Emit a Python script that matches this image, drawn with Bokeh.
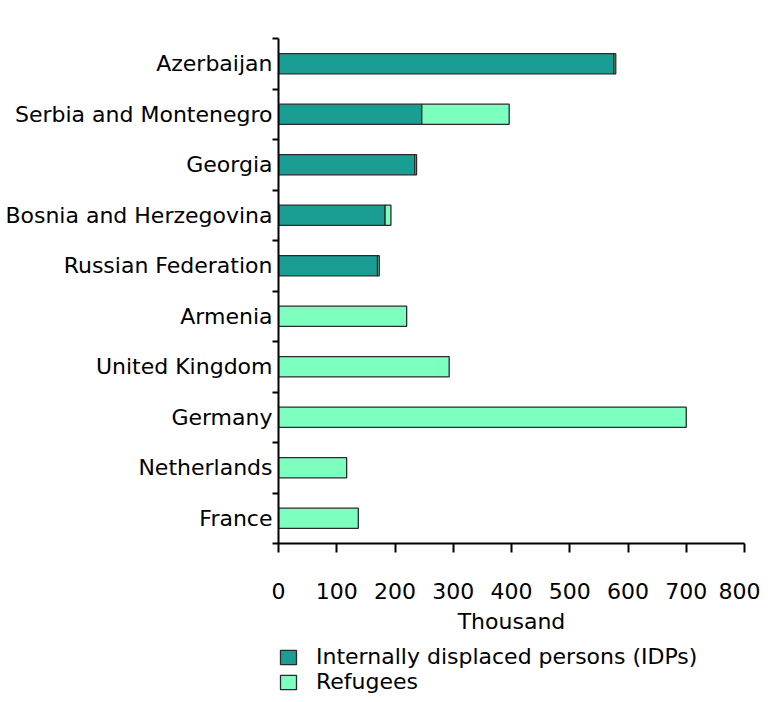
from bokeh.plotting import figure
from bokeh.models import ColumnDataSource, FixedTicker, Range1d, Legend, LegendItem
from bokeh.layouts import column
from bokeh.embed import file_html
from bokeh.resources import INLINE

countries = ["Azerbaijan", "Serbia and Montenegro", "Georgia", "Bosnia and Herzegovina",
             "Russian Federation", "Armenia", "United Kingdom", "Germany", "Netherlands", "France"]
idps = [576, 246, 234, 183, 170, 0, 0, 0, 0, 0]
refugees = [3, 150, 3, 10, 3, 220, 293, 700, 117, 137]
x_ticks = [0, 100, 200, 300, 400, 500, 600, 700, 800]
series_labels = ["Internally displaced persons (IDPs)", "Refugees"]
series_colors = ["#1a9e94", "#7dffbf"]

n = len(countries)
ypos = [n - 1 - i for i in range(n)]
src = ColumnDataSource(dict(y=ypos, idp=idps, ref=refugees))

FONT = "DejaVu Sans"
FS = "22px"

p = figure(width=760, height=640, output_backend="svg", toolbar_location=None,
           x_range=Range1d(0, 800), y_range=Range1d(-0.5, n - 0.5),
           min_border_left=278, min_border_right=16, min_border_top=38, min_border_bottom=97)
p.outline_line_color = None
p.xgrid.visible = False
p.ygrid.visible = False

rs = p.hbar_stack(["idp", "ref"], y="y", height=0.4, source=src,
                  fill_color=series_colors, line_color="#2a2a2a", line_width=1.3)

# x axis
p.xaxis.ticker = FixedTicker(ticks=x_ticks, minor_ticks=[])
p.xaxis.axis_label = "Thousand"
p.xaxis.axis_label_text_font = FONT
p.xaxis.axis_label_text_font_size = FS
p.xaxis.axis_label_text_font_style = "normal"
p.xaxis.axis_label_text_color = "black"
p.xaxis.axis_label_standoff = 7
p.xaxis.major_label_text_font = FONT
p.xaxis.major_label_text_font_size = FS
p.xaxis.major_label_text_color = "black"
p.xaxis.major_label_standoff = 30
p.xaxis.major_tick_out = 9
p.xaxis.major_tick_in = 0
p.xaxis.axis_line_width = 2
p.xaxis.major_tick_line_width = 2
p.xaxis.axis_line_color = "black"

# y axis: labels at centres, ticks at boundaries
p.yaxis.ticker = FixedTicker(ticks=ypos, minor_ticks=[v - 0.5 for v in range(n + 1)])
p.yaxis.major_label_overrides = {yv: c for yv, c in zip(ypos, countries)}
p.yaxis.major_label_text_font = FONT
p.yaxis.major_label_text_font_size = FS
p.yaxis.major_label_text_color = "black"
p.yaxis.major_label_standoff = 0
p.yaxis.major_tick_line_color = None
p.yaxis.major_tick_out = 0
p.yaxis.major_tick_in = 0
p.yaxis.minor_tick_out = 6
p.yaxis.minor_tick_in = 0
p.yaxis.minor_tick_line_width = 2
p.yaxis.minor_tick_line_color = "black"
p.yaxis.axis_line_width = 2
p.yaxis.axis_line_color = "black"

# legend panel below (frames are aligned with the chart above)
p2 = figure(width=760, height=54, output_backend="svg", toolbar_location=None,
            x_range=Range1d(0, 1), y_range=Range1d(0, 1),
            min_border_left=0, min_border_right=0, min_border_top=0, min_border_bottom=0)
p2.axis.visible = False
p2.grid.visible = False
p2.outline_line_color = None
items = []
for lab, col in zip(series_labels, series_colors):
    # legend-only proxy glyph with no drawable position
    r = p2.hbar(y=[float("nan")], left=[float("nan")], right=[float("nan")], height=0.4,
                fill_color=col, line_color="#2a2a2a", line_width=1.3)
    items.append(LegendItem(label=lab, renderers=[r]))
legend = Legend(items=items, location=(0, 0), orientation="vertical", margin=0,
                glyph_width=20, glyph_height=18, label_standoff=18, spacing=-3,
                padding=0, border_line_color=None, background_fill_alpha=0,
                label_text_font=FONT, label_text_font_size=FS, label_text_color="black")
p2.add_layout(legend, "center")

layout = column(p, p2, spacing=0)
open("out.html", "w").write(file_html(layout, INLINE))
